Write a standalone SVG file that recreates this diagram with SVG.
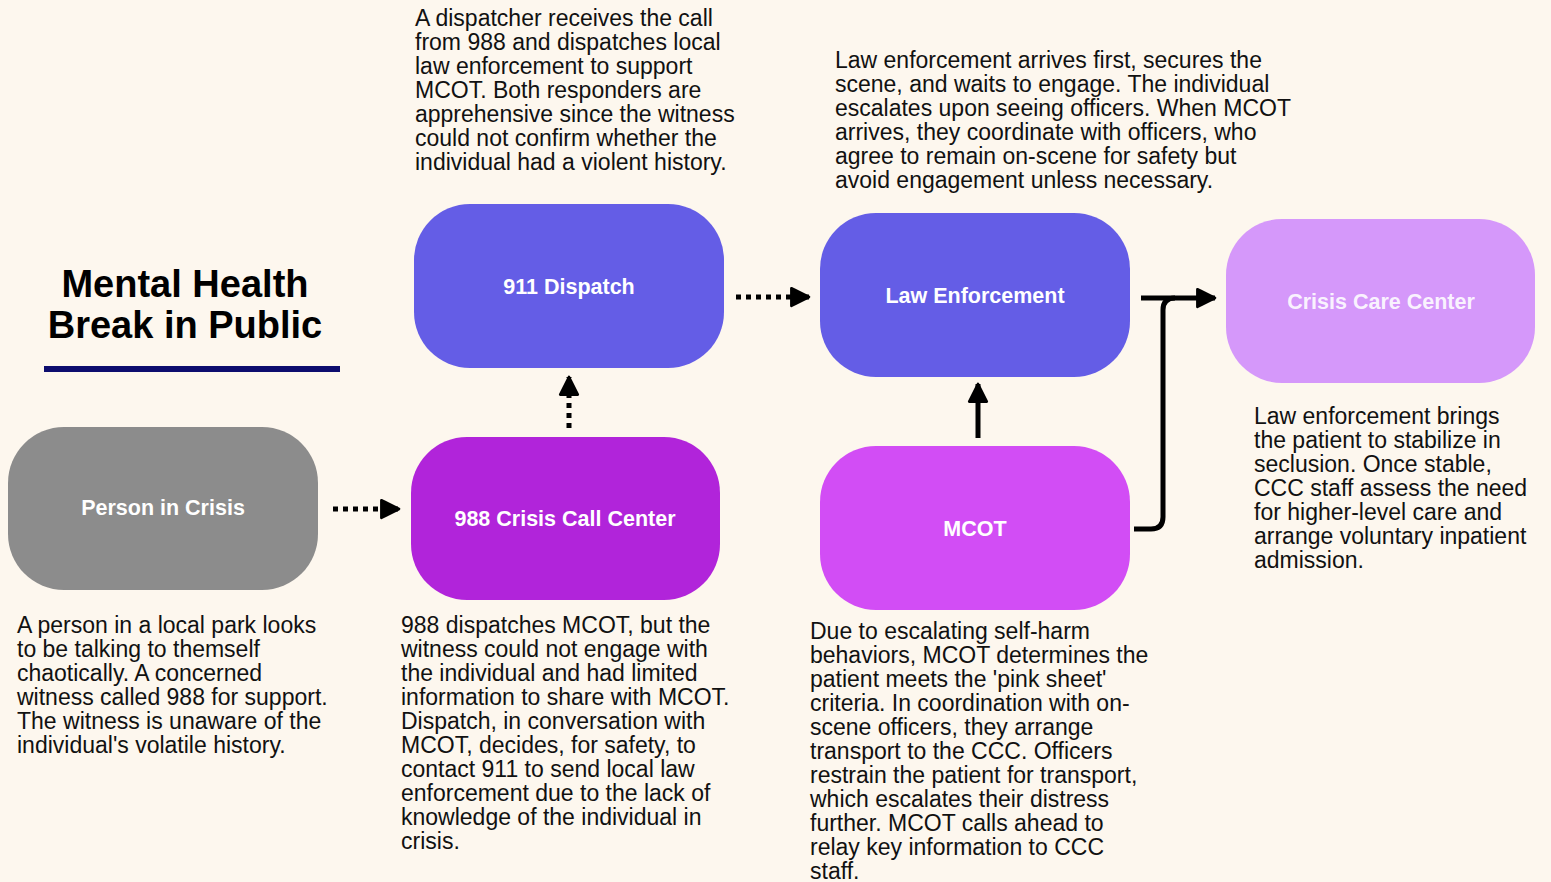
<svg xmlns="http://www.w3.org/2000/svg" width="1551" height="882" viewBox="0 0 1551 882">
<defs>
<style>
.body{font-family:"Liberation Sans",Arial,sans-serif;font-size:23px;fill:#111}
.lbl{font-family:"Liberation Sans",Arial,sans-serif;font-size:21.5px;font-weight:bold;fill:#fff;text-anchor:middle;dominant-baseline:central}
.title{font-family:"Liberation Sans",Arial,sans-serif;font-size:38px;font-weight:bold;fill:#000;text-anchor:middle}
.dot{stroke:#000;stroke-width:5;stroke-dasharray:5 5;fill:none}
.solid{stroke:#000;stroke-width:5;fill:none;stroke-linecap:butt}
</style>
<marker id="ah" viewBox="0 0 10 10" refX="9" refY="5" markerWidth="4.4" markerHeight="5.2" orient="auto" markerUnits="strokeWidth">
<path d="M1,1 L9,5 L1,9 Z" fill="#000" stroke="#000" stroke-width="1.2" stroke-linejoin="round"/>
</marker>
</defs>
<rect width="1551" height="882" fill="#FDF7EE"/>

<g id="title">
<text class="title" x="185" y="297">Mental Health</text>
<text class="title" x="185" y="338">Break in Public</text>
<rect x="44" y="366" width="296" height="6" fill="#0D0D6E"/>
</g>

<g id="connectors">
<line class="dot" x1="333" y1="509" x2="399" y2="509" marker-end="url(#ah)"/>
<line class="dot" x1="569" y1="428" x2="569" y2="377" marker-end="url(#ah)"/>
<line class="dot" x1="736" y1="297" x2="809" y2="297" marker-end="url(#ah)"/>
<line class="solid" x1="978" y1="438" x2="978" y2="384" marker-end="url(#ah)"/>
<line class="solid" x1="1141" y1="298" x2="1215" y2="298" marker-end="url(#ah)"/>
<path class="solid" d="M1134,529 H1151 Q1163,529 1163,517 V310 Q1163,298 1175,298"/>
</g>

<g id="person-in-crisis">
<rect x="8" y="427" width="310" height="163" rx="56" fill="#8C8C8C"/>
<text class="lbl" x="163" y="508">Person in Crisis</text>
</g>
<g id="crisis-call-center">
<rect x="411" y="437" width="309" height="163" rx="56" fill="#B124DA"/>
<text class="lbl" x="565" y="519">988 Crisis Call Center</text>
</g>
<g id="dispatch-911">
<rect x="414" y="204" width="310" height="164" rx="56" fill="#645DE6"/>
<text class="lbl" x="569" y="287">911 Dispatch</text>
</g>
<g id="law-enforcement">
<rect x="820" y="213" width="310" height="164" rx="56" fill="#645DE6"/>
<text class="lbl" x="975" y="296">Law Enforcement</text>
</g>
<g id="mcot">
<rect x="820" y="446" width="310" height="164" rx="56" fill="#D24DF5"/>
<text class="lbl" x="975" y="529">MCOT</text>
</g>
<g id="crisis-care-center">
<rect x="1226" y="219" width="309" height="164" rx="56" fill="#D598FA"/>
<text class="lbl" x="1381" y="302" fill-opacity="0.9">Crisis Care Center</text>
</g>

<g id="text-911">
<text class="body" x="415" y="26">A dispatcher receives the call</text>
<text class="body" x="415" y="50">from 988 and dispatches local</text>
<text class="body" x="415" y="74">law enforcement to support</text>
<text class="body" x="415" y="98">MCOT. Both responders are</text>
<text class="body" x="415" y="122">apprehensive since the witness</text>
<text class="body" x="415" y="146">could not confirm whether the</text>
<text class="body" x="415" y="170">individual had a violent history.</text>
</g>
<g id="text-le">
<text class="body" x="835" y="68">Law enforcement arrives first, secures the</text>
<text class="body" x="835" y="92">scene, and waits to engage. The individual</text>
<text class="body" x="835" y="116">escalates upon seeing officers. When MCOT</text>
<text class="body" x="835" y="140">arrives, they coordinate with officers, who</text>
<text class="body" x="835" y="164">agree to remain on-scene for safety but</text>
<text class="body" x="835" y="188">avoid engagement unless necessary.</text>
</g>
<g id="text-person">
<text class="body" x="17" y="633">A person in a local park looks</text>
<text class="body" x="17" y="657">to be talking to themself</text>
<text class="body" x="17" y="681">chaotically. A concerned</text>
<text class="body" x="17" y="705">witness called 988 for support.</text>
<text class="body" x="17" y="729">The witness is unaware of the</text>
<text class="body" x="17" y="753">individual's volatile history.</text>
</g>
<g id="text-988">
<text class="body" x="401" y="633">988 dispatches MCOT, but the</text>
<text class="body" x="401" y="657">witness could not engage with</text>
<text class="body" x="401" y="681">the individual and had limited</text>
<text class="body" x="401" y="705">information to share with MCOT.</text>
<text class="body" x="401" y="729">Dispatch, in conversation with</text>
<text class="body" x="401" y="753">MCOT, decides, for safety, to</text>
<text class="body" x="401" y="777">contact 911 to send local law</text>
<text class="body" x="401" y="801">enforcement due to the lack of</text>
<text class="body" x="401" y="825">knowledge of the individual in</text>
<text class="body" x="401" y="849">crisis.</text>
</g>
<g id="text-mcot">
<text class="body" x="810" y="639">Due to escalating self-harm</text>
<text class="body" x="810" y="663">behaviors, MCOT determines the</text>
<text class="body" x="810" y="687">patient meets the 'pink sheet'</text>
<text class="body" x="810" y="711">criteria. In coordination with on-</text>
<text class="body" x="810" y="735">scene officers, they arrange</text>
<text class="body" x="810" y="759">transport to the CCC. Officers</text>
<text class="body" x="810" y="783">restrain the patient for transport,</text>
<text class="body" x="810" y="807">which escalates their distress</text>
<text class="body" x="810" y="831">further. MCOT calls ahead to</text>
<text class="body" x="810" y="855">relay key information to CCC</text>
<text class="body" x="810" y="879">staff.</text>
</g>
<g id="text-ccc">
<text class="body" x="1254" y="424">Law enforcement brings</text>
<text class="body" x="1254" y="448">the patient to stabilize in</text>
<text class="body" x="1254" y="472">seclusion. Once stable,</text>
<text class="body" x="1254" y="496">CCC staff assess the need</text>
<text class="body" x="1254" y="520">for higher-level care and</text>
<text class="body" x="1254" y="544">arrange voluntary inpatient</text>
<text class="body" x="1254" y="568">admission.</text>
</g>
</svg>
